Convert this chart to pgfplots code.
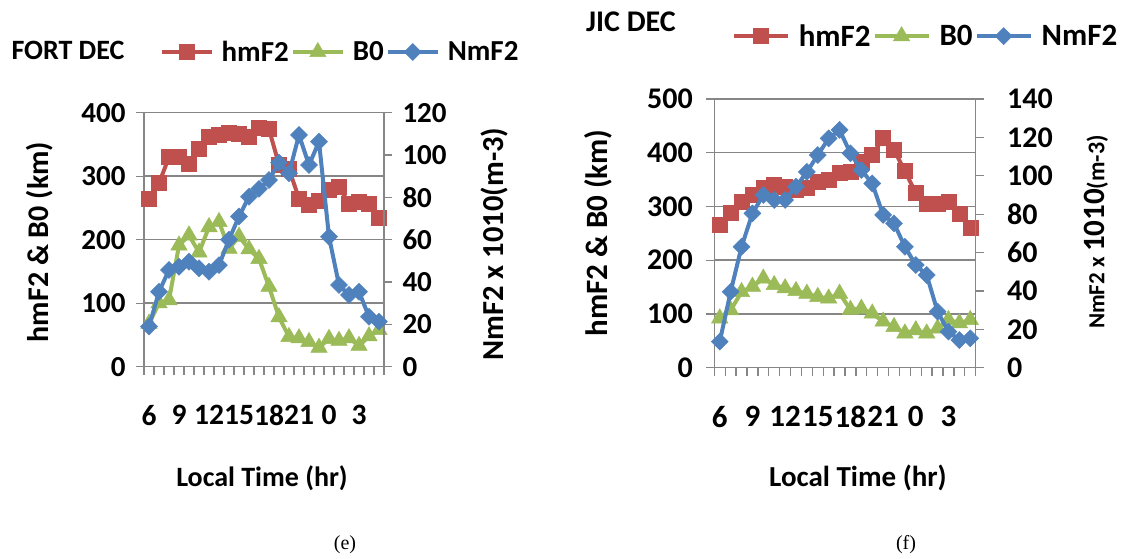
\documentclass[border=0pt]{standalone}
\usepackage{fontspec}
\setmainfont{Carlito}
\newfontfamily\timesfont{Liberation Serif}
\usepackage{pgfplots}
\usepackage{pgfplotstable}
\pgfplotsset{compat=1.18}

\definecolor{cred}{RGB}{192,80,77}
\definecolor{cgreen}{RGB}{155,187,89}
\definecolor{cblue}{RGB}{79,129,189}
\definecolor{cgrid}{RGB}{134,134,134}

\pgfplotstableread{
i hmF2 B0 NmF2
0 265 68 19
1 289 100 35.4
2 330 105 45.7
3 330 191 47.2
4 320 207 49.6
5 344 180 46.5
6 362 220 44.9
7 365 228 48
8 369 186 60
9 367 205 71
10 362 185 80.3
11 377 170 84
12 374 126 88.2
13 318 78 96.4
14 311 47 91.4
15 265 45 109.5
16 255 39 95.3
17 262 30 106.3
18 278 44 61.4
19 283 41 38.6
20 257 45 33.9
21 260 33 35.4
22 257 48 23.6
23 234 58 21.3
}\fortdata

\pgfplotstableread{
i hmF2 B0 NmF2
0 266 92 13.6
1 288 107 39.6
2 309 141 63
3 322 151 80.4
4 334 166 90
5 340 154 87.4
6 337 148 87.4
7 331 143 94.3
8 334 138 102
9 346 132 110.8
10 350 129 119.5
11 362 138 123.9
12 365 108 111.7
13 384 110 103
14 396 101 96
15 427 86 79.6
16 405 76 75.2
17 366 64 63
18 325 70 53.5
19 306 64 48.3
20 306 73 29.2
21 309 89 18.8
22 287 83 14.4
23 260 89 15.3
}\jicdata

\pgfplotsset{
  excelbase/.style={
    scale only axis,
    xmin=-0.5, xmax=23.5, ymin=0,
    tick align=outside,
    axis line style={cgrid, line width=1.5pt},
    every tick/.style={cgrid, line width=1.3pt},
    major tick length=8pt, minor tick length=8pt,
    clip=false,
    /pgf/number format/assume math mode=true,
    /pgf/number format/1000 sep={},
  },
  hmstyle/.style={cred, line width=4pt, mark=square*, mark size=7.5pt, mark options={solid, fill=cred, draw=cred, line width=0.5pt, rotate=0}},
  bostyle/.style={cgreen, line width=4pt, mark=triangle*, mark size=9.5pt, mark options={solid, fill=cgreen, draw=cgreen, line width=0.5pt}},
  nmstyle/.style={cblue, line width=4pt, mark=square*, mark size=6pt, mark options={solid, fill=cblue, draw=cblue, line width=0.5pt, rotate=45}},
}

\begin{document}
\begin{tikzpicture}
\path[use as bounding box] (0pt,0pt) rectangle (1123pt,558pt);

% ---------------- Panel (e) ----------------
\begin{axis}[excelbase,
  at={(144pt,191.3pt)}, anchor=south west,
  width=240pt, height=254pt,
  ymax=400, ytick={0,100,...,400},
  axis x line*=bottom, axis y line*=left,
  ymajorgrids, grid style={cgrid, line width=1.5pt},
  xtick={-0.5,0.5,...,23.5}, xticklabels={},
  extra x ticks={0,3,...,21},
  extra x tick labels={6,9,12,15,18,21,0,3},
  extra x tick style={major tick length=0pt, tick label style={yshift=-35pt}},
  yticklabel style={font=\fontsize{29}{31}\selectfont\bfseries, xshift=-7pt},
  xticklabel style={font=\fontsize{29.5}{31}\selectfont\bfseries},
  legend style={at={(0.817,1.239)}, anchor=center, draw=none, fill=none,
    font=\fontsize{29}{32}\selectfont\bfseries, legend columns=3,
    /tikz/every odd column/.append style={column sep=6pt}},
  legend image code/.code={\draw[mark repeat=2,mark phase=2] plot coordinates {(0pt,0pt) (25pt,0pt) (50pt,0pt)};},
]
\addplot[hmstyle] table[x=i,y=hmF2] {\fortdata};
\addplot[bostyle] table[x=i,y=B0] {\fortdata};
\addlegendimage{nmstyle}
\legend{hmF2,B0,NmF2}
\end{axis}
\begin{axis}[excelbase,
  at={(144pt,191.3pt)}, anchor=south west,
  width=240pt, height=254pt,
  ymax=120, ytick={0,20,...,120},
  axis y line*=right, axis x line=none,
  yticklabel style={font=\fontsize{29}{31}\selectfont\bfseries, xshift=7pt},
]
\addplot[nmstyle] table[x=i,y=NmF2] {\fortdata};
\end{axis}

\node[font=\fontsize{28}{30}\selectfont\bfseries] at (68pt,508pt) {FORT DEC};
\node[rotate=90, font=\fontsize{30}{32}\selectfont\bfseries] at (40pt,316pt) {hmF2 \& B0 (km)};
\node[rotate=90, font=\fontsize{30.5}{32}\selectfont\bfseries] at (494pt,314pt) {NmF2 x 1010(m-3)};
\node[font=\fontsize{28}{30}\selectfont\bfseries] at (262pt,80pt) {Local Time (hr)};
\node[font=\fontsize{20}{22}\selectfont\timesfont] at (345pt,13pt) {(e)};

% ---------------- Panel (f) ----------------
\begin{axis}[excelbase,
  at={(714.3pt,190.3pt)}, anchor=south west,
  width=261.4pt, height=268.7pt,
  ymax=500, ytick={0,100,...,500},
  axis x line*=bottom, axis y line*=left,
  ymajorgrids, grid style={cgrid, line width=1.5pt},
  xtick={-0.5,0.5,...,23.5}, xticklabels={},
  extra x ticks={0,3,...,21},
  extra x tick labels={6,9,12,15,18,21,0,3},
  extra x tick style={major tick length=0pt, tick label style={yshift=-35pt}},
  yticklabel style={font=\fontsize{30}{32}\selectfont\bfseries, xshift=-10pt},
  xticklabel style={font=\fontsize{31}{33}\selectfont\bfseries},
  legend style={at={(0.808,1.234)}, anchor=center, draw=none, fill=none,
    font=\fontsize{31}{34}\selectfont\bfseries, legend columns=3,
    /tikz/every odd column/.append style={column sep=7pt}},
  legend image code/.code={\draw[mark repeat=2,mark phase=2] plot coordinates {(0pt,0pt) (27pt,0pt) (54pt,0pt)};},
]
\addplot[hmstyle] table[x=i,y=hmF2] {\jicdata};
\addplot[bostyle] table[x=i,y=B0] {\jicdata};
\addlegendimage{nmstyle}
\legend{hmF2,B0,NmF2}
\end{axis}
\begin{axis}[excelbase,
  at={(714.3pt,190.3pt)}, anchor=south west,
  width=261.4pt, height=268.7pt,
  ymax=140, ytick={0,20,...,140},
  axis y line*=right, axis x line=none,
  yticklabel style={font=\fontsize{30}{32}\selectfont\bfseries, xshift=20pt},
]
\addplot[nmstyle] table[x=i,y=NmF2] {\jicdata};
\end{axis}

\node[font=\fontsize{30}{32}\selectfont\bfseries] at (631pt,536pt) {JIC DEC};
\node[rotate=90, font=\fontsize{31}{33}\selectfont\bfseries] at (598pt,325pt) {hmF2 \& B0 (km)};
\node[rotate=90, font=\bfseries] at (1096pt,326pt) {\fontsize{23}{25}\selectfont NmF2 x \fontsize{31}{34}\selectfont 1010\fontsize{24}{26}\selectfont(m-3)};
\node[font=\fontsize{29}{32}\selectfont\bfseries] at (858pt,80pt) {Local Time (hr)};
\node[font=\fontsize{20}{22}\selectfont\timesfont] at (906pt,13pt) {(f)};
\end{tikzpicture}
\end{document}
